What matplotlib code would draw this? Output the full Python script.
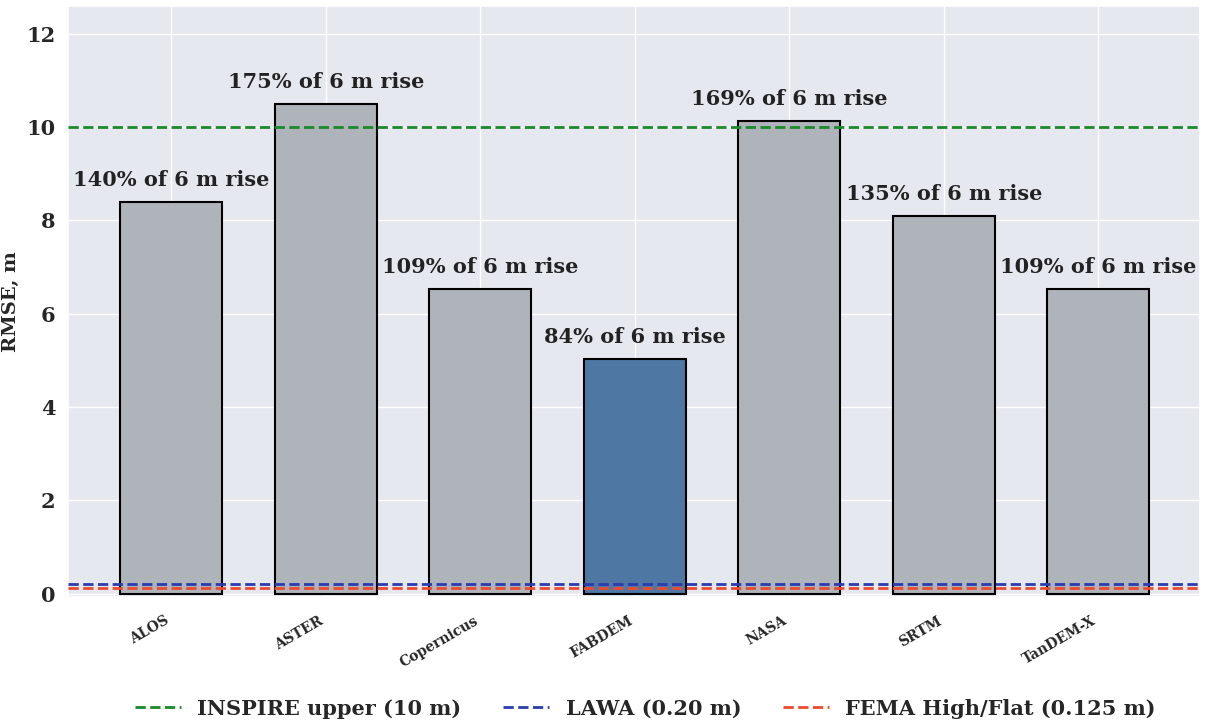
import matplotlib
matplotlib.use("Agg")
import matplotlib.pyplot as plt
import seaborn as sns

# RMSE of each DEM
dems = ["ALOS", "ASTER", "Copernicus", "FABDEM", "NASA", "SRTM", "TanDEM-X"]
rmse = [8.4, 10.5, 6.54, 5.03, 10.14, 8.1, 6.54]
pct_labels = ["140%", "175%", "109%", "84%", "169%", "135%", "109%"]

# reference thresholds
thresholds = [10, 0.20, 0.125]
threshold_names = ["INSPIRE upper (10 m)", "LAWA (0.20 m)", "FEMA High/Flat (0.125 m)"]
threshold_colors = ["#1a8a2a", "#2a3cb0", "#ee4a30"]

sns.set_theme(style="darkgrid")
plt.rcParams["font.family"] = ["DejaVu Serif"]
plt.rcParams["font.weight"] = "bold"

fig = plt.figure(figsize=(12.1, 7.21), dpi=100)
ax = fig.add_axes([0.056, 0.172, 0.936, 0.82])
ax.set_facecolor("#e6e8f0")

colors = ["#4e77a3" if d == "FABDEM" else "#afb3ba" for d in dems]
x = list(range(len(dems)))
ax.bar(x, rmse, width=0.66, color=colors, edgecolor="black", linewidth=1.5, zorder=2)

for xi, val, p in zip(x, rmse, pct_labels):
    ax.text(xi, val + 0.25, p + " of 6 m rise", ha="center", va="bottom",
            fontsize=15, fontweight="bold", color="#222222", zorder=4)

for t, name, c in zip(thresholds, threshold_names, threshold_colors):
    ax.axhline(t, color=c, linestyle="--", linewidth=2, label=name, zorder=3)

ax.set_xlim(-0.67, 6.66)
ax.set_ylim(-0.07, 12.6)
ax.set_yticks([0, 2, 4, 6, 8, 10, 12])
ax.set_xticks(x)
ax.set_xticklabels(dems, rotation=30, ha="right", fontsize=10, fontweight="bold")
ax.tick_params(axis="y", labelsize=15, pad=3)
ax.tick_params(axis="x", pad=6)
for lab in ax.get_yticklabels():
    lab.set_fontweight("bold")
ax.set_ylabel("RMSE, m", fontsize=14, fontweight="bold", labelpad=4)

ax.legend(loc="upper center", bbox_to_anchor=(0.51, -0.14), ncol=3, frameon=False,
          prop={"size": 15, "weight": "bold"}, handlelength=2.2, columnspacing=2.0)

fig.savefig("out.png", dpi=100)
